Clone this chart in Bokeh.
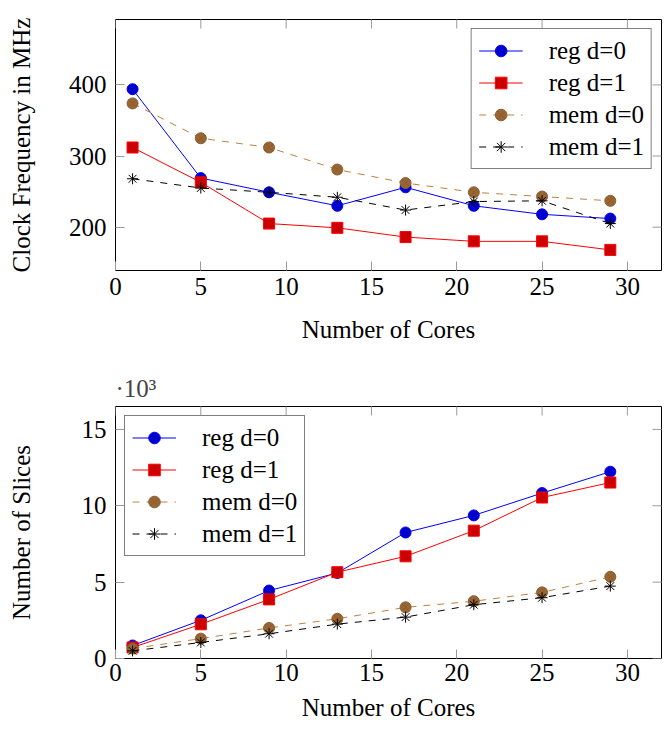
import math
from bokeh.plotting import figure
from bokeh.models import Range1d, FixedTicker, Legend, LegendItem, Title
from bokeh.layouts import column
from bokeh.embed import file_html
from bokeh.resources import INLINE

cores = [1, 5, 9, 13, 17, 21, 25, 29]

freq_reg_d0 = [394, 269, 249, 230, 256, 230, 218, 212]
freq_reg_d1 = [312, 263, 205, 199, 186, 180, 180, 168]
freq_mem_d0 = [374, 325, 312, 281, 262, 249, 243, 237]
freq_mem_d1 = [268, 255, 249, 242, 224, 236, 237, 205]

slices_reg_d0 = [0.85, 2.5, 4.45, 5.6, 8.25, 9.37, 10.83, 12.23]
slices_reg_d1 = [0.72, 2.24, 3.87, 5.65, 6.69, 8.37, 10.54, 11.52]
slices_mem_d0 = [0.65, 1.3, 2.0, 2.6, 3.35, 3.75, 4.33, 5.35]
slices_mem_d1 = [0.5, 1.05, 1.62, 2.25, 2.71, 3.52, 3.98, 4.74]

x_ticks = [0, 5, 10, 15, 20, 25, 30]
freq_ticks = [200, 300, 400]
slice_ticks = [0, 5, 10, 15]

labels = ["reg d=0", "reg d=1", "mem d=0", "mem d=1"]
x_title = "Number of Cores"

FONT = "Liberation Serif"
LEG_FONT = "'Liberation Serif', serif"
FS = "25px"
TICK_COLOR = "#9a9a9a"


def style_axis(ax):
    ax.axis_line_color = None
    ax.major_tick_in = 9
    ax.major_tick_out = 0
    ax.major_tick_line_color = TICK_COLOR
    ax.major_tick_line_width = 1
    ax.minor_tick_line_color = None
    ax.major_label_text_font = FONT
    ax.major_label_text_font_size = FS
    ax.major_label_text_color = "black"
    ax.axis_label_text_font = FONT
    ax.axis_label_text_font_size = FS
    ax.axis_label_text_font_style = "normal"
    ax.axis_label_text_color = "black"


def make_fig(ys, yr, yticks, ylabel, height, top, bottom, legend_loc, title=None,
             ylabel_standoff=31, xtick_standoff=7, xlabel_standoff=18,
             xlabel_on_axis=True):
    p = figure(width=665, height=height, output_backend="svg", toolbar_location=None,
               x_range=Range1d(0, 32), y_range=Range1d(*yr),
               min_border_left=115, min_border_right=4,
               min_border_top=top, min_border_bottom=bottom,
               title=title)
    p.grid.visible = False
    p.outline_line_color = "black"
    p.outline_line_width = 1
    p.background_fill_color = "white"
    p.border_fill_color = "white"
    p.xaxis.ticker = FixedTicker(ticks=x_ticks)
    p.yaxis.ticker = FixedTicker(ticks=yticks)
    for ax in p.xaxis + p.yaxis:
        style_axis(ax)
    if xlabel_on_axis:
        p.xaxis.axis_label = x_title
    else:
        p.add_layout(Title(text=x_title, align="center", text_font=FONT,
                           text_font_size=FS, text_font_style="normal",
                           text_color="black", standoff=16), "below")
    p.yaxis.axis_label = ylabel
    p.xaxis.major_label_standoff = xtick_standoff
    p.yaxis.major_label_standoff = 9
    p.xaxis.axis_label_standoff = xlabel_standoff
    p.yaxis.axis_label_standoff = ylabel_standoff

    # mirrored inward ticks on the top and right edges (clipped to the frame)
    p.scatter(x_ticks, [yr[1]] * len(x_ticks), marker="dash", size=18,
              angle=math.pi / 2, line_color=TICK_COLOR, line_width=1)
    p.scatter([32] * len(yticks), yticks, marker="dash", size=18,
              line_color=TICK_COLOR, line_width=1)

    specs = [
        dict(lc="#0000ff", dash="solid", marker="circle", fill="#0000cc", mline="#0000ff", size=11),
        dict(lc="#ff0000", dash="solid", marker="square", fill="#cc0000", mline="#ff0000", size=11),
        dict(lc="#bf8040", dash="7 7", marker="circle_x", fill="#996633", mline="#8a5d2e", size=11),
        dict(lc="black", dash="7 7", marker="asterisk", fill="black", mline="black", size=11),
    ]
    items = []
    for y, s, lab in zip(ys, specs, labels):
        ln = p.line(cores, y, line_color=s["lc"], line_width=1, line_dash=s["dash"])
        sc = p.scatter(cores, y, marker=s["marker"], size=s["size"], fill_color=s["fill"],
                       line_color=s["mline"], line_width=1)
        items.append(LegendItem(label=lab, renderers=[ln, sc]))
    leg = Legend(items=items, location=legend_loc,
                 label_text_font=LEG_FONT, label_text_font_size=FS,
                 label_text_font_style="normal", label_text_color="black")
    leg.glyph_width = 44
    leg.glyph_height = 29
    leg.label_height = 29
    leg.spacing = 3
    leg.padding = 7
    leg.label_standoff = 26
    leg.margin = 9
    leg.border_line_color = "black"
    leg.border_line_width = 1
    leg.background_fill_alpha = 1
    p.add_layout(leg, "center")
    return p


p1 = make_fig([freq_reg_d0, freq_reg_d1, freq_mem_d0, freq_mem_d1], (139, 492),
              freq_ticks, "Clock Frequency in MHz", 364, 19, 94, "top_right",
              ylabel_standoff=31, xtick_standoff=7, xlabel_standoff=18)

p2 = make_fig([slices_reg_d0, slices_reg_d1, slices_mem_d0, slices_mem_d1], (0, 16.5),
              slice_ticks, "Number of Slices", 365, 42, 71, "top_left",
              title="\u00b710\u00b3", ylabel_standoff=44, xtick_standoff=5,
              xlabel_on_axis=False)
p2.title.text_font = FONT
p2.title.text_font_size = FS
p2.title.text_font_style = "normal"
p2.title.align = "left"
p2.title.standoff = 9

layout = column(p1, p2, spacing=0)
open("out.html", "w").write(file_html(layout, INLINE))
